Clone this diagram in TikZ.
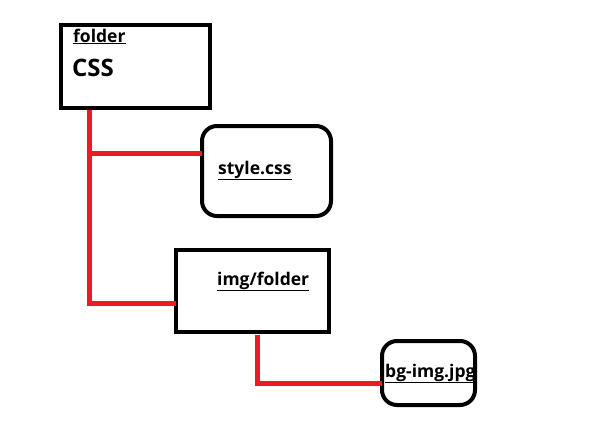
\documentclass[tikz,border=0pt]{standalone}
\usepackage{fontspec}
\setmainfont{Open Sans}
\definecolor{paintred}{RGB}{237,28,36}
\newcommand{\myul}[1]{\underline{#1}}
\begin{document}
\begin{tikzpicture}[x=1pt,y=-1pt,
  sqbox/.style={draw=black,line width=4pt,anchor=north west,inner sep=0pt,outer sep=0pt},
  rbox/.style={sqbox,rounded corners=15pt},
  lbl/.style={anchor=base west,inner sep=0pt,font=\bfseries\fontsize{17.5}{19}\selectfont},
  redline/.style={draw=paintred,line width=5pt}]
\useasboundingbox (0,0) rectangle (610,423);
\fill[white] (0,0) rectangle (610,423);
\node[sqbox,minimum width=149pt,minimum height=83pt] (folder) at (61,25) {};
\node[rbox,minimum width=129pt,minimum height=90pt] (style) at (202,126) {};
\node[sqbox,minimum width=153pt,minimum height=82pt] (img) at (176,250) {};
\node[rbox,minimum width=93pt,minimum height=64pt] (bg) at (382,341) {};
\node[lbl] (tfolder) at (73,42) {\myul{folder}};
\node[anchor=base west,inner sep=0pt,font=\bfseries\fontsize{24}{26}\selectfont] (tcss) at (72,76) {CSS};
\node[lbl] (tstyle) at (218,174) {\myul{style.css}};
\node[lbl] (timg) at (217,285) {\myul{img/folder}};
\node[lbl] (tbg) at (385,377) {\myul{bg-img.jpg}};
\draw[redline] ([xshift=28pt,yshift=-2pt]folder.south west) |- ([yshift=-27pt]style.north west);
\draw[redline] ([xshift=28pt,yshift=-2pt]folder.south west) |- ([yshift=-12pt]img.west);
\draw[redline] ([xshift=81pt,yshift=-3pt]img.south west) |- ([yshift=-10pt]bg.west);
\end{tikzpicture}
\end{document}
